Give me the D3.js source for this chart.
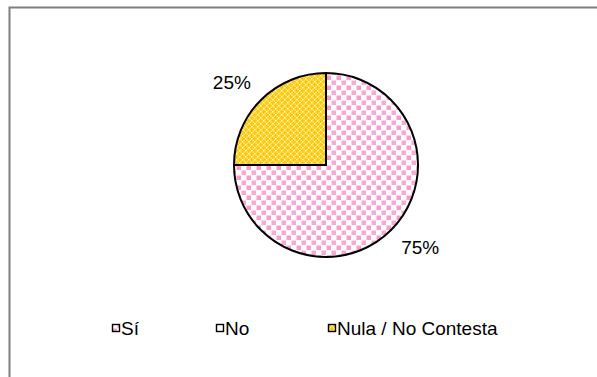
<!DOCTYPE html>
<html>
<head>
<meta charset="utf-8">
<script src="https://cdn.jsdelivr.net/npm/d3@7"></script>
<style>
  html, body { margin: 0; padding: 0; background: #fff; }
  svg { display: block; }
  text { font-family: "Liberation Sans", Arial, sans-serif; }
</style>
</head>
<body>
<svg id="chart" width="597" height="377"></svg>
<script>
// Answer categories and their shares (percent)
const categories = ["Sí", "No", "Nula / No Contesta"];
const values = [75, 0, 25];
const valueLabels = ["75%", "", "25%"];
const patternIds = ["patSi", "patNo", "patNula"];

const svg = d3.select("#chart");
const W = 597, H = 377;

// ---- fill patterns ----
const defs = svg.append("defs");

// pink confetti squares on white
const pSi = defs.append("pattern").attr("id", "patSi")
  .attr("patternUnits", "userSpaceOnUse").attr("width", 10).attr("height", 10);
pSi.append("rect").attr("width", 10).attr("height", 10).attr("fill", "#fff");
pSi.append("rect").attr("x", 0.5).attr("y", 0.5).attr("width", 4.5).attr("height", 4.5).attr("fill", "#fc99cd");
pSi.append("rect").attr("x", 5.5).attr("y", 5.5).attr("width", 4.5).attr("height", 4.5).attr("fill", "#fca8d5");

// plain white
const pNo = defs.append("pattern").attr("id", "patNo")
  .attr("patternUnits", "userSpaceOnUse").attr("width", 6).attr("height", 6);
pNo.append("rect").attr("width", 6).attr("height", 6).attr("fill", "#fff");

// gold with white dotted lattice
const pNu = defs.append("pattern").attr("id", "patNula")
  .attr("patternUnits", "userSpaceOnUse").attr("width", 6).attr("height", 6);
pNu.append("rect").attr("width", 6).attr("height", 6).attr("fill", "#ffc800");
[[0, 0, "#fff"], [3, 3, "#fff"], [1.5, 1.5, "#ffe27a"], [4.5, 4.5, "#ffe27a"], [1.5, 4.5, "#ffe27a"], [4.5, 1.5, "#ffe27a"]]
  .forEach(([x, y, c]) => pNu.append("rect").attr("x", x).attr("y", y).attr("width", 1.5).attr("height", 1.5).attr("fill", c));

// ---- chart frame ----
svg.append("path")
  .attr("d", `M9.5,${H}V7.5H${W}`)
  .attr("fill", "none").attr("stroke", "#7f7f7f").attr("stroke-width", 2);

// ---- pie ----
const cx = 326, cy = 165, r = 92;
const data = categories.map((c, i) => ({ cat: c, value: values[i], label: valueLabels[i], pat: patternIds[i] }));
const pie = d3.pie().sort(null).value(d => d.value);
const arcs = pie(data);
const arc = d3.arc().innerRadius(0).outerRadius(r);

const g = svg.append("g").attr("transform", `translate(${cx},${cy})`);
g.selectAll("path.slice")
  .data(arcs.filter(a => a.data.value > 0))
  .join("path")
  .attr("class", "slice")
  .attr("d", arc)
  .attr("fill", d => `url(#${d.data.pat})`)
  .attr("stroke", "#000")
  .attr("stroke-width", 2)
  .attr("stroke-linejoin", "miter");

// value labels placed outside the slices, nudged away horizontally
const labelArc = d3.arc().innerRadius(r * 1.34).outerRadius(r * 1.34);
g.selectAll("text.val")
  .data(arcs.filter(a => a.data.value > 0))
  .join("text")
  .attr("class", "val")
  .attr("transform", d => {
    const [x, y] = labelArc.centroid(d);
    return `translate(${x + Math.sign(x) * 7},${y - Math.sign(y) * 5})`;
  })
  .attr("text-anchor", "middle")
  .attr("dy", "0.35em")
  .attr("font-size", 19)
  .attr("fill", "#000")
  .text(d => d.data.label);

// ---- legend ----
const legendX = [112, 216, 328];
const legendY = 328;
const lg = svg.append("g");
const item = lg.selectAll("g.item").data(data).join("g")
  .attr("class", "item")
  .attr("transform", (d, i) => `translate(${legendX[i]},${legendY})`);
item.append("rect")
  .attr("x", 0.5).attr("y", -3.5).attr("width", 7).attr("height", 7)
  .attr("fill", d => `url(#${d.pat})`)
  .attr("stroke", "#000").attr("stroke-width", 1.4);
item.append("text")
  .attr("x", 9).attr("y", 0).attr("dy", "0.35em")
  .attr("font-size", 19).attr("fill", "#000")
  .text(d => d.cat);
</script>
</body>
</html>
